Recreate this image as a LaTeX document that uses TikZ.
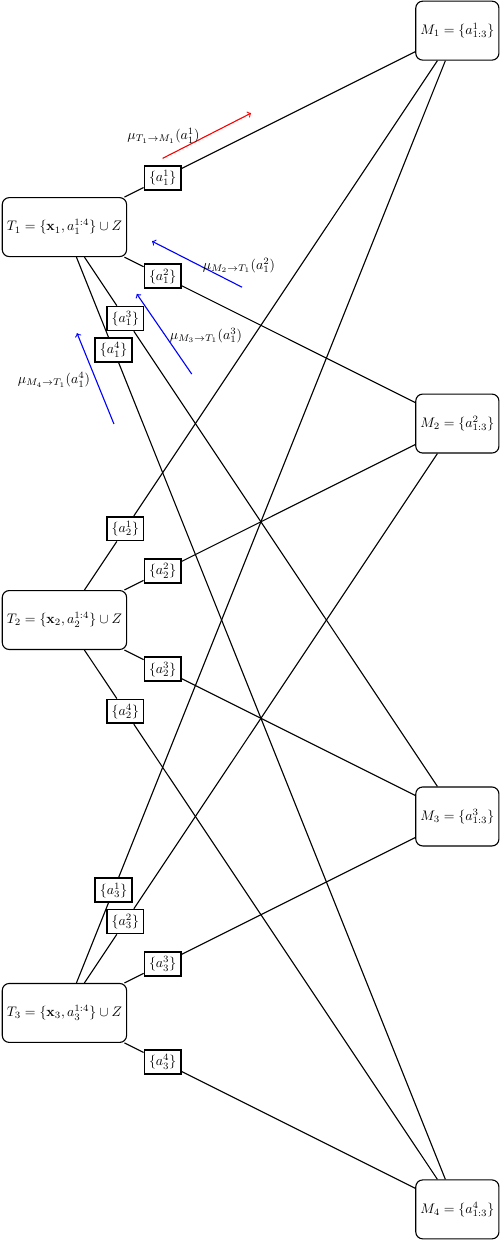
\documentclass[tikz,border=0pt]{standalone}
\usepackage{amsmath}
\usetikzlibrary{calc}
\begin{document}
\begin{tikzpicture}[
  factor/.style={draw, thick, rounded corners=5pt, minimum height=1.5cm},
  varbox/.style={draw, very thick, fill=white},
  msg/.style={->, thick}
]
\useasboundingbox (-1.64,-25.83) rectangle (11.13,5.78);
\foreach \i/\y in {1/0,2/-10,3/-20}{
  \node[factor] (T\i) at (0,\y) {$T_\i=\{\mathbf{x}_\i,a_\i^{1:4}\}\cup Z$};
}
\foreach \j/\y in {1/5,2/-5,3/-15,4/-25}{
  \node[factor] (M\j) at (10,\y) {$M_\j=\{a^\j_{1:3}\}$};
}
\foreach \i/\j/\f in {1/1/0.25,1/2/0.25,1/3/0.155,1/4/0.125,2/1/0.155,2/2/0.25,
                      2/3/0.25,2/4/0.155,3/1/0.125,3/2/0.155,3/3/0.25,3/4/0.25}{
  \node[varbox] (a\i\j) at ($(T\i)!\f!(M\j)$) {$\{a_\i^\j\}$};
  \draw[thick] (T\i) -- (a\i\j) -- (M\j);
}
\coordinate (r1s) at (2.5,1.75);
\coordinate (r1e) at (4.75,2.9);
\draw[msg, red] (r1s) -- (r1e);
\node (lr1) at (2.52,2.32) {$\mu_{T_1\to M_1}(a_1^1)$};
\foreach \j/\sx/\sy/\ex/\ey/\lx/\ly in {2/4.52/-1.53/2.23/-0.36/4.44/-0.97,
    3/3.24/-3.74/1.84/-1.70/3.60/-2.75,4/1.26/-5.01/0.32/-2.70/-0.27/-3.89}{
  \coordinate (b\j s) at (\sx,\sy);
  \coordinate (b\j e) at (\ex,\ey);
  \draw[msg, blue] (b\j s) -- (b\j e);
  \node (lb\j) at (\lx,\ly) {$\mu_{M_\j\to T_1}(a_1^\j)$};
}
\end{tikzpicture}
\end{document}
